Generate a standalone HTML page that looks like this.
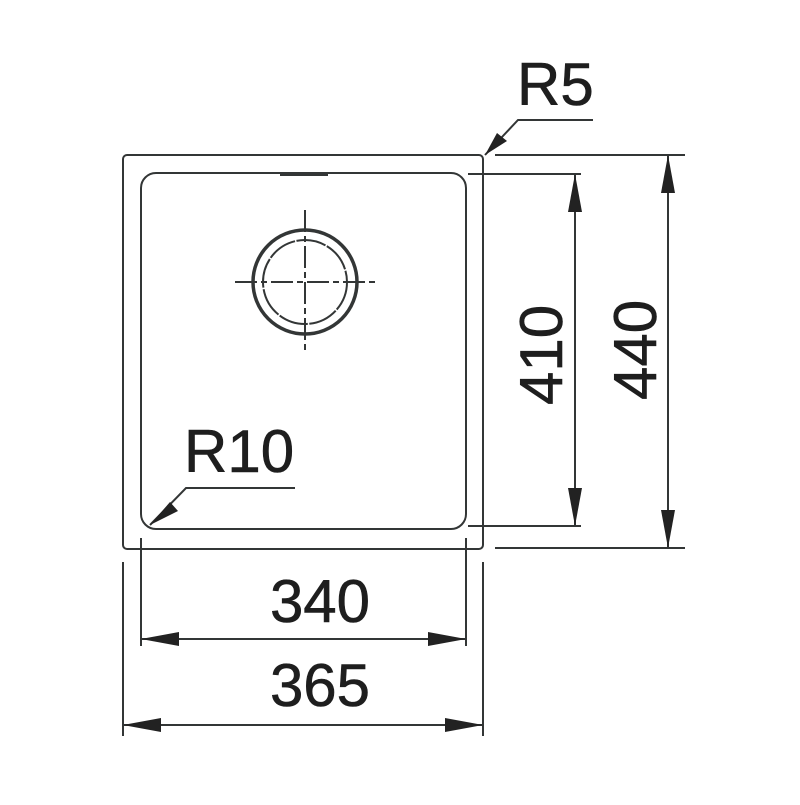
<!DOCTYPE html>
<html><head><style>html,body{margin:0;padding:0;background:#fff;}</style></head>
<body>
<svg width="800" height="800" viewBox="0 0 800 800" xmlns="http://www.w3.org/2000/svg">
<g fill="none" stroke="#333636" stroke-width="2">
<rect x="123" y="155" width="360" height="394" rx="4"/>
<rect x="141" y="173" width="325" height="356" rx="15"/>
<line x1="280" y1="174" x2="328" y2="174" stroke-width="4"/>
<circle cx="305" cy="282" r="52" stroke-width="3.5"/>
<circle cx="305" cy="282" r="42" stroke-dasharray="30 1.5"/>
<line x1="235" y1="282" x2="375" y2="282" stroke-dasharray="22 4 6 4"/>
<line x1="305" y1="210" x2="305" y2="352" stroke-dasharray="22 4 6 4"/>
<line x1="141" y1="538" x2="141" y2="646"/>
<line x1="466" y1="538" x2="466" y2="646"/>
<line x1="123" y1="562" x2="123" y2="736"/>
<line x1="483" y1="562" x2="483" y2="736"/>
<line x1="468" y1="174" x2="581" y2="174"/>
<line x1="468" y1="526" x2="581" y2="526"/>
<line x1="495" y1="155" x2="685" y2="155"/>
<line x1="495" y1="548" x2="685" y2="548"/>
<line x1="141" y1="639" x2="466" y2="639"/>
<line x1="123" y1="725" x2="483" y2="725"/>
<line x1="575" y1="174" x2="575" y2="526"/>
<line x1="668" y1="155" x2="668" y2="548"/>
<polyline points="485,155 518,120 593,120"/>
<polyline points="150,525 186,488 295,488"/>
</g>
<g fill="#222">
<polygon points="141,639 179,632 179,646"/>
<polygon points="466,639 428,632 428,646"/>
<polygon points="123,725 161,718 161,732"/>
<polygon points="483,725 445,718 445,732"/>
<polygon points="575,174 568,212 582,212"/>
<polygon points="575,526 568,488 582,488"/>
<polygon points="668,155 661,193 675,193"/>
<polygon points="668,548 661,510 675,510"/>
<polygon points="485,155 497,133 507,141"/>
<polygon points="150,525 170,502 178,511"/>
</g>
<g font-family="Liberation Sans, sans-serif" font-size="60" fill="#1e1e1e" stroke="#1e1e1e" stroke-width="0.6">
<text x="517" y="105">R5</text>
<text x="184" y="472">R10</text>
<text x="320" y="622" text-anchor="middle">340</text>
<text x="320" y="706" text-anchor="middle">365</text>
<text transform="translate(562,355) rotate(-90)" text-anchor="middle">410</text>
<text transform="translate(656,350) rotate(-90)" text-anchor="middle">440</text>
</g>
</svg>
</body></html>
